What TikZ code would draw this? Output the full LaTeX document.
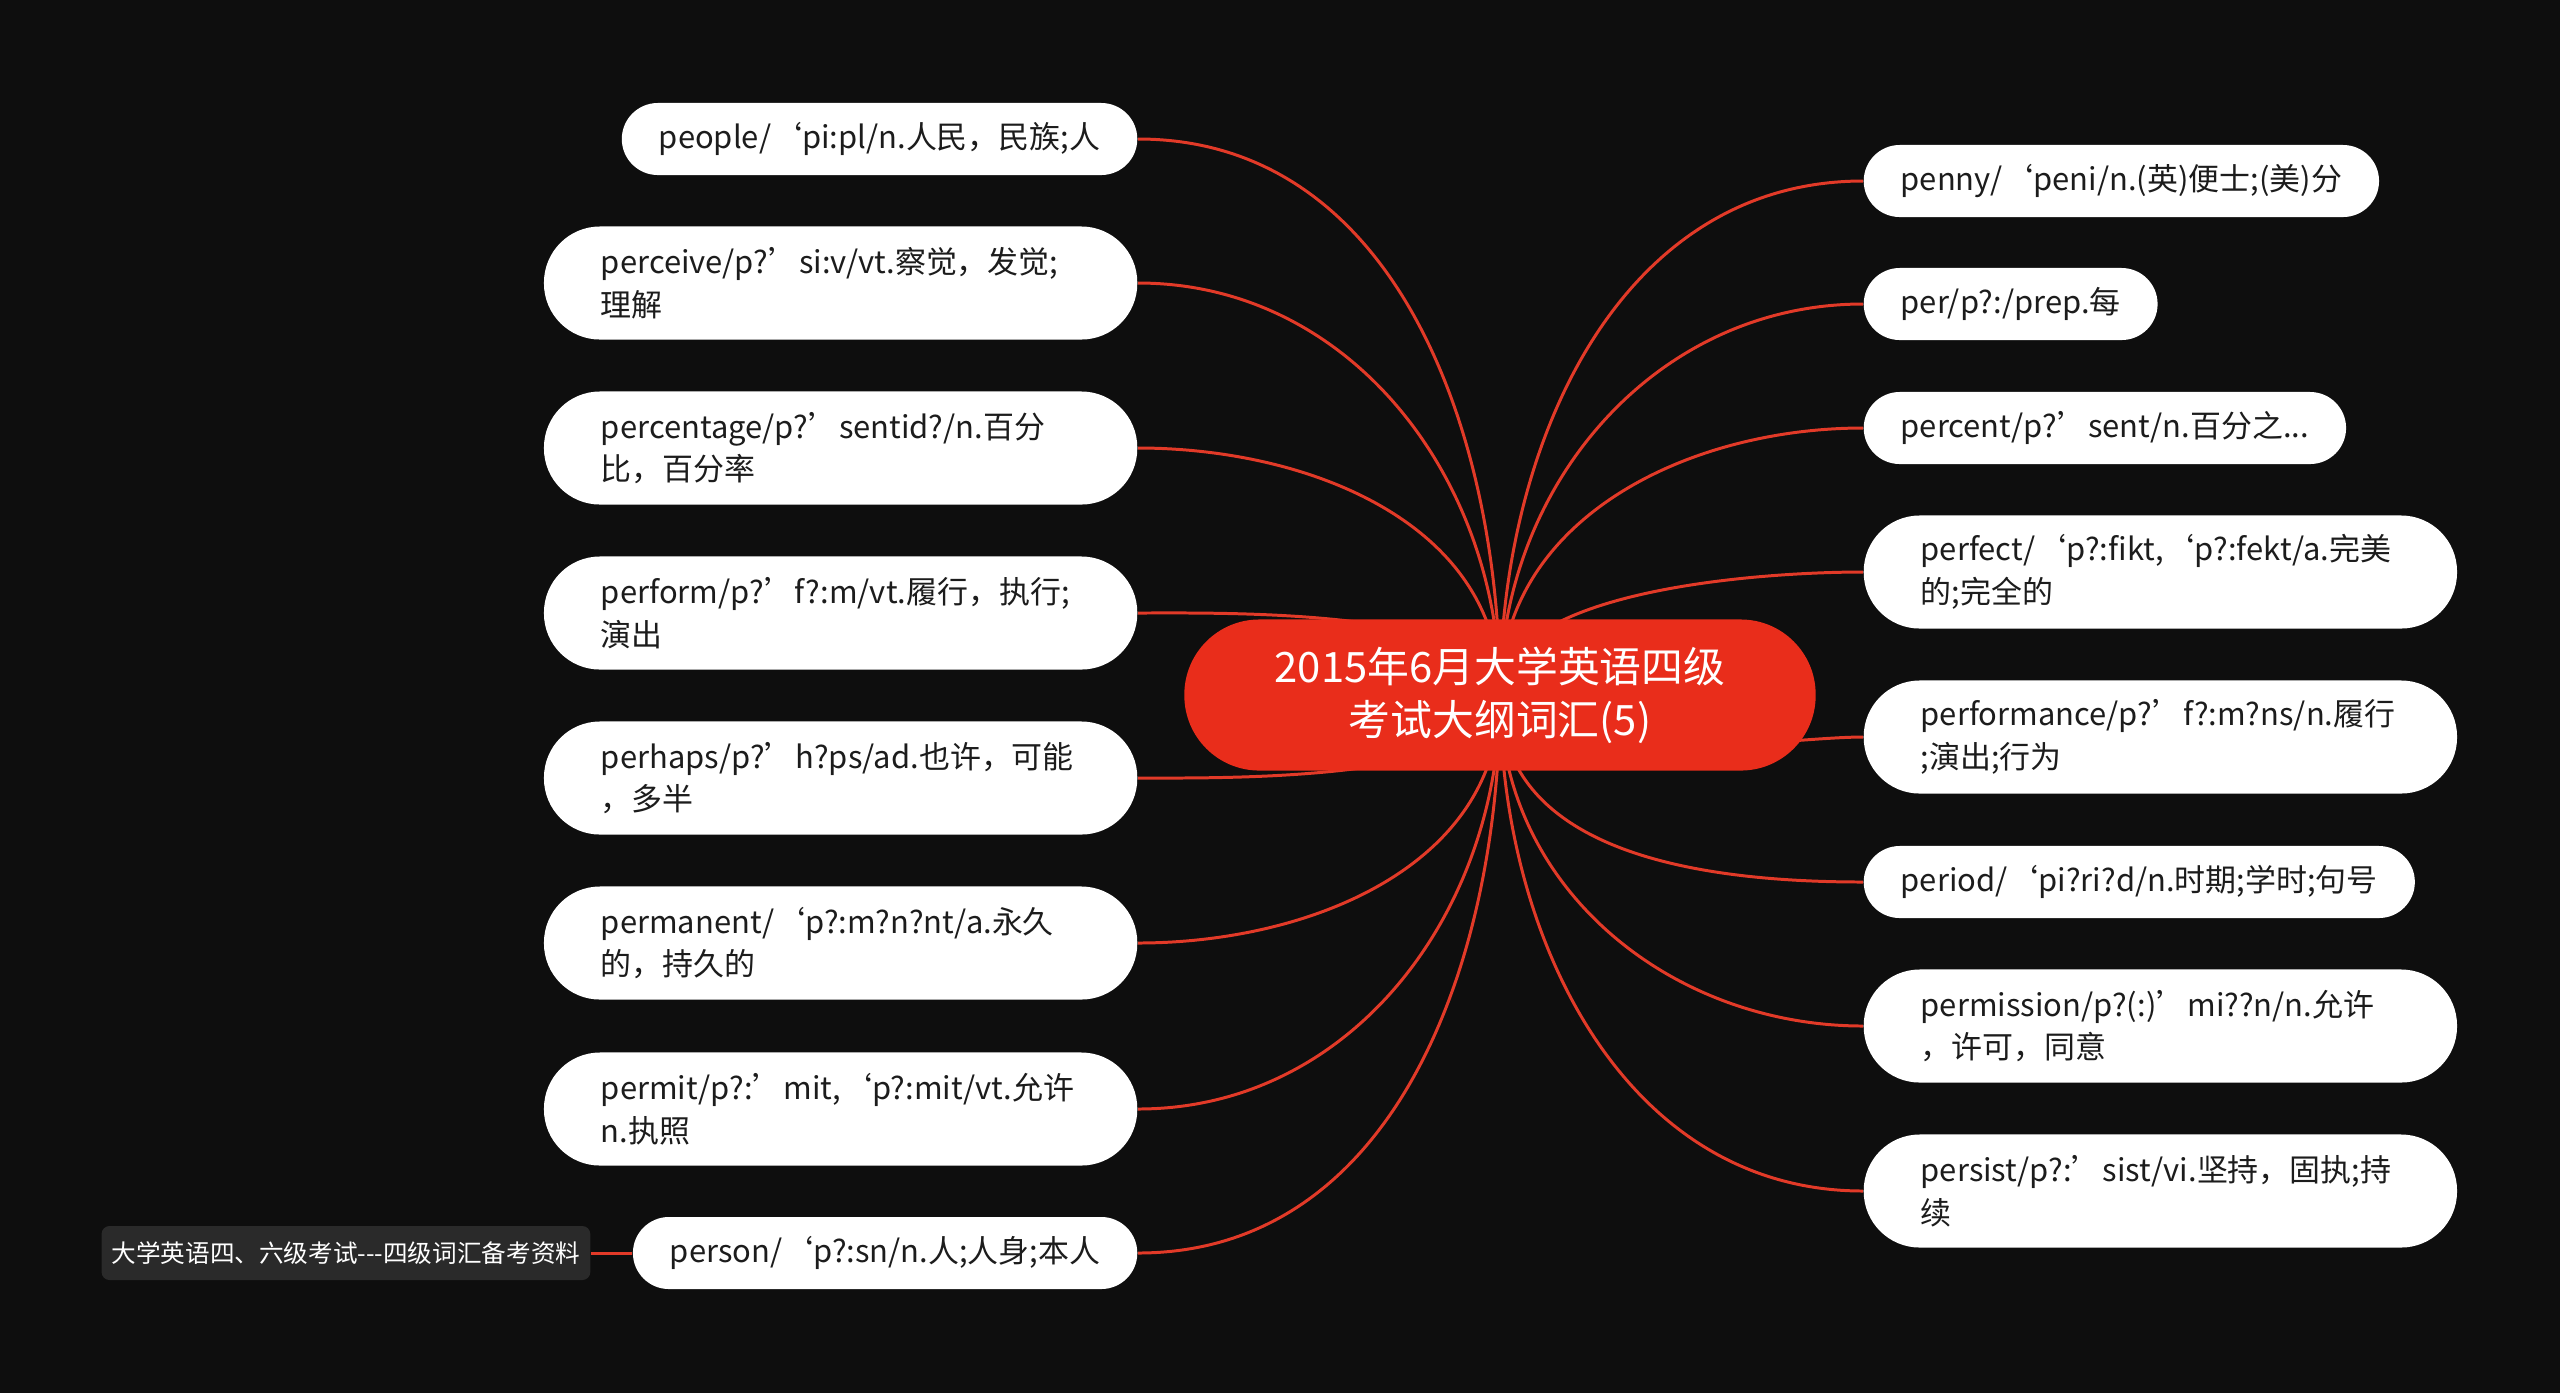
\documentclass[tikz,border=0pt]{standalone}
\usepackage{fontspec}
\setmainfont{Noto Sans CJK SC}
\pgfdeclarelayer{background}
\pgfsetlayers{background,main}
\definecolor{bgdark}{RGB}{14,14,14}
\definecolor{rootred}{RGB}{233,45,27}
\definecolor{wirered}{RGB}{226,58,40}
\definecolor{notegray}{RGB}{42,42,42}
\definecolor{inkgray}{RGB}{28,28,28}
\tikzset{
	topic/.style={fill=rootred, text=white, align=center, minimum width=6.31cm, minimum height=1.51cm,
		rounded corners=0.75cm, font=\fontsize{11.9}{15}\selectfont},
	word/.style={fill=white, text=inkgray, minimum height=0.72cm, inner xsep=0.37cm,
		rounded corners=0.36cm, font=\fontsize{8.8}{12.1}\selectfont},
	wordtwo/.style={word, text width=4.79cm, align=left, minimum height=1.13cm, inner xsep=0.57cm,
		rounded corners=0.56cm},
	note/.style={fill=notegray, text=white, minimum height=0.54cm, inner xsep=0.1cm,
		rounded corners=0.08cm, font=\fontsize{7}{8}\selectfont},
	wire/.style={draw=wirered, line width=0.85pt}
}

\begin{document}
\begin{tikzpicture}[x=0.01cm, y=-0.01cm]
	\useasboundingbox (0,0) rectangle (2560,1393);

	\node[topic] (root) at (1500,695) {2015年6月大学英语四级\\考试大纲词汇(5)};

	% left side
	\node[word, anchor=east] (ppl) at (1138,139) {people/‘pi:pl/n.人民，民族;人};
	\node[wordtwo, anchor=east] (pcv) at (1138,283) {perceive/p?’si:v/vt.察觉，发觉;\\理解};
	\node[wordtwo, anchor=east] (pct) at (1138,448) {percentage/p?’sentid?/n.百分\\比，百分率};
	\node[wordtwo, anchor=east] (pfm) at (1138,613) {perform/p?’f?:m/vt.履行，执行;\\演出};
	\node[wordtwo, anchor=east] (phs) at (1138,778) {perhaps/p?’h?ps/ad.也许，可能\\，多半};
	\node[wordtwo, anchor=east] (pmn) at (1138,943) {permanent/‘p?:m?n?nt/a.永久\\的，持久的};
	\node[wordtwo, anchor=east] (pmt) at (1138,1109) {permit/p?:’mit,‘p?:mit/vt.允许\\n.执照};
	\node[word, anchor=east] (psn) at (1138,1253) {person/‘p?:sn/n.人;人身;本人};
	\node[note, anchor=east] (note) at (591,1253) {大学英语四、六级考试-{}-{}-四级词汇备考资料};

	% right side
	\node[word, anchor=west] (pny) at (1863,181) {penny/‘peni/n.(英)便士;(美)分};
	\node[word, anchor=west] (per) at (1863,304) {per/p?:/prep.每};
	\node[word, anchor=west] (pcn) at (1863,428) {percent/p?’sent/n.百分之...};
	\node[wordtwo, anchor=west] (pft) at (1863,572) {perfect/‘p?:fikt,‘p?:fekt/a.完美\\的;完全的};
	\node[wordtwo, anchor=west] (pfc) at (1863,737) {performance/p?’f?:m?ns/n.履行\\;演出;行为};
	\node[word, anchor=west] (prd) at (1863,882) {period/‘pi?ri?d/n.时期;学时;句号};
	\node[wordtwo, anchor=west] (pms) at (1863,1026) {permission/p?(:)’mi??n/n.允许\\，许可，同意};
	\node[wordtwo, anchor=west] (pst) at (1863,1191) {persist/p?:’sist/vi.坚持，固执;持\\续};

\begin{pgfonlayer}{background}
	\fill[bgdark] (0,0) rectangle (2560,1393);
	\draw [wire] (root.center)
		edge[out=90,in=0] (ppl.east) edge[out=90,in=0] (pcv.east)
		edge[out=90,in=0] (pct.east) edge[out=90,in=0,looseness=0.6] (pfm.east)
		edge[out=270,in=0,looseness=0.6] (phs.east) edge[out=270,in=0] (pmn.east)
		edge[out=270,in=0] (pmt.east) edge[out=270,in=0] (psn.east)
		edge[out=90,in=180] (pny.west) edge[out=90,in=180] (per.west)
		edge[out=90,in=180] (pcn.west) edge[out=90,in=180,looseness=0.7] (pft.west)
		edge[out=270,in=180,looseness=0.6] (pfc.west) edge[out=270,in=180] (prd.west)
		edge[out=270,in=180] (pms.west) edge[out=270,in=180] (pst.west);
	\draw [wire] (note.east) -- (psn.west);
\end{pgfonlayer}

\end{tikzpicture}
\end{document}
